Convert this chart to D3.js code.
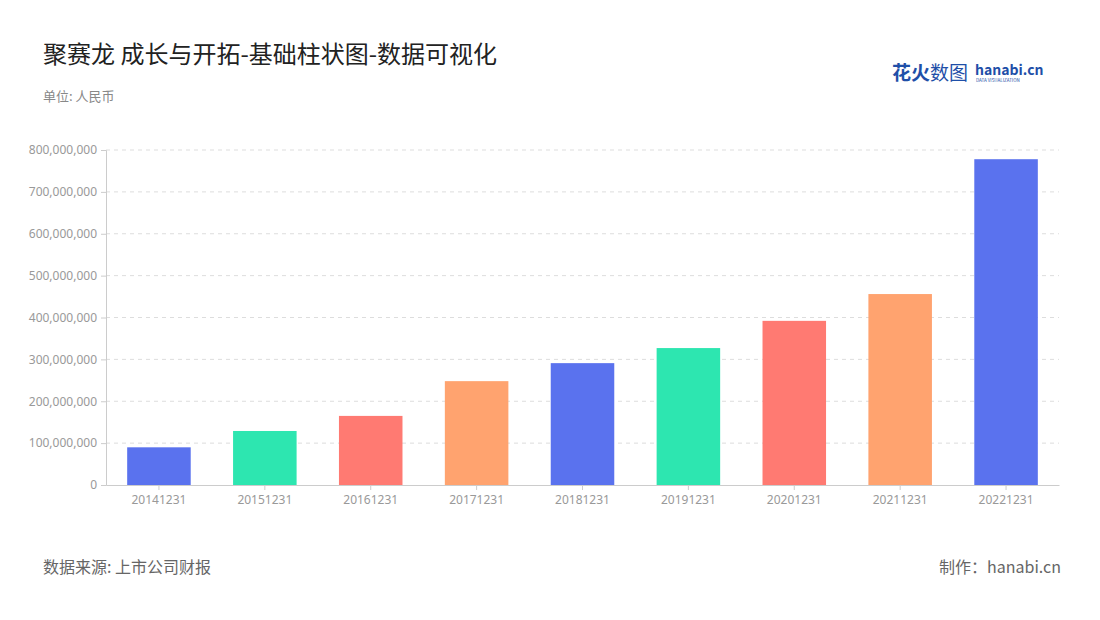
<!DOCTYPE html>
<html><head><meta charset="utf-8">
<script src="https://cdn.jsdelivr.net/npm/d3@7"></script>
<style>body{margin:0;background:#fff;font-family:"Noto Sans CJK SC","Noto Sans",sans-serif;}</style>
</head><body><div class="canvas"></div>
<script>
const years = ['20141231','20151231','20161231','20171231','20181231','20191231','20201231','20211231','20221231'];
const values = [90e6,129e6,165e6,248e6,291e6,327e6,392e6,456e6,778e6];
const palette = ['#5a72ee','#2de6b0','#ff7a72','#ffa36f'];
const yTicks = [0,1e8,2e8,3e8,4e8,5e8,6e8,7e8,8e8];

const svg = d3.select('.canvas').append('svg').attr('width',1100).attr('height',620);
const m = {left:106, right:1059, top:150, bottom:485};

svg.append('text').attr('x',43).attr('y',63).attr('font-size',24).attr('fill','#222')
  .text('聚赛龙 成长与开拓-基础柱状图-数据可视化');
svg.append('text').attr('x',43).attr('y',101).attr('font-size',13).attr('fill','#888').text('单位: 人民币');
svg.append('text').attr('x',43).attr('y',573).attr('font-size',16).attr('fill','#666').text('数据来源: 上市公司财报');
svg.append('text').attr('x',1061).attr('y',573).attr('font-size',16).attr('fill','#666').attr('text-anchor','end').text('制作：hanabi.cn');

// logo
svg.append('text').attr('x',892).attr('y',80).attr('font-size',19).attr('font-weight','bold').attr('fill','#1f4fa8').text('花火');
svg.append('text').attr('x',930).attr('y',80).attr('font-size',19).attr('fill','#1f4fa8').text('数图');
svg.append('text').attr('x',975).attr('y',75).attr('font-size',14).attr('font-weight','bold').attr('fill','#1f4fa8').text('hanabi.cn');
svg.append('text').attr('x',976).attr('y',82).attr('font-size',4.5).attr('fill','#1f4fa8').text('DATA VISUALIZATION');

const x = d3.scaleBand().domain(years).range([m.left,m.right]).paddingInner(0.4).paddingOuter(0.2);
const y = d3.scaleLinear().domain([0,8e8]).range([m.bottom,m.top]);

svg.append('g').selectAll('line').data(yTicks.slice(1)).join('line')
  .attr('x1',m.left).attr('x2',m.right).attr('y1',d=>y(d)).attr('y2',d=>y(d))
  .attr('stroke','#ddd').attr('stroke-dasharray','4,4');

const yAxis = svg.append('g').attr('transform',`translate(${m.left},0)`)
  .call(d3.axisLeft(y).tickValues(yTicks).tickFormat(d3.format(',')).tickSize(5).tickPadding(4));
yAxis.select('.domain').attr('stroke','#ccc');
yAxis.selectAll('.tick line').attr('stroke','#ccc');
yAxis.selectAll('text').attr('fill','#999').attr('font-size',12).attr('font-family','Noto Sans');

svg.append('g').selectAll('rect').data(values).join('rect')
  .attr('x',(d,i)=>x(years[i])).attr('width',x.bandwidth())
  .attr('y',d=>y(d)).attr('height',d=>y(0)-y(d))
  .attr('fill',(d,i)=>palette[i%4]);

const xAxis = svg.append('g').attr('transform',`translate(0,${m.bottom})`)
  .call(d3.axisBottom(x).tickSize(5).tickPadding(5).tickSizeOuter(0));
xAxis.select('.domain').attr('stroke','#ccc');
xAxis.selectAll('.tick line').attr('stroke','#ccc');
xAxis.selectAll('text').attr('fill','#999').attr('font-size',12).attr('font-family','Noto Sans');
</script></body></html>
